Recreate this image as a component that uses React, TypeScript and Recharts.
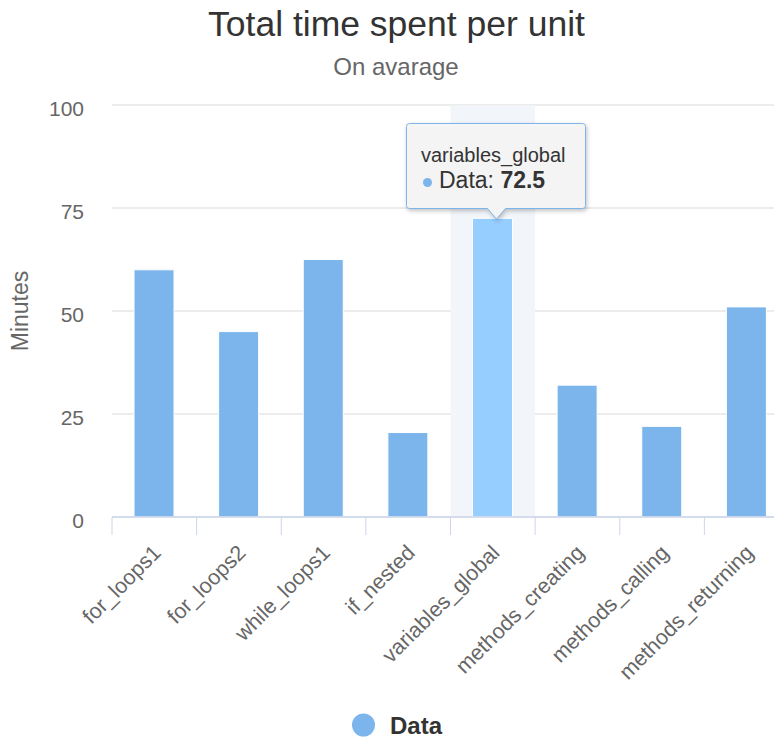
import React from 'react'
import { Bar, BarChart, CartesianGrid, Cell, Tooltip, XAxis, YAxis } from 'recharts'

const categories = [
  'for_loops1',
  'for_loops2',
  'while_loops1',
  'if_nested',
  'variables_global',
  'methods_creating',
  'methods_calling',
  'methods_returning',
]
const minutes = [60, 45, 62.5, 20.5, 72.5, 32, 22, 51]
const yTicks = [0, 25, 50, 75, 100]
const seriesName = 'Data'
const hoveredIndex = 4

const data = categories.map((name, i) => ({ name, value: minutes[i] }))

const FONT = '"Liberation Sans", Arial, Helvetica, sans-serif'
const BAR = '#7cb5ec'
const BAR_HOVER = '#96ceff'
const AXIS = '#ccd6eb'

function YTick({ x, y, payload }: any) {
  return (
    <text x={x} y={y + 10.5} textAnchor="end" fill="#666666" fontSize={21} fontFamily={FONT}>
      {payload.value}
    </text>
  )
}

// Highcharts puts the tick marks between categories, so draw them at the left edge of each band
function XTick({ x, y, payload }: any) {
  const half = payload.offset ?? 0
  return (
    <g>
      <line x1={x - half} x2={x - half} y1={y} y2={y + 18} stroke={AXIS} strokeWidth={1} />
      <text
        x={x + 8}
        y={y + 37}
        textAnchor="end"
        fill="#666666"
        fontSize={21.5}
        fontFamily={FONT}
        transform={`rotate(-45, ${x + 8}, ${y + 37})`}
      >
        {payload.value}
      </text>
    </g>
  )
}

function TooltipBox({ active, payload, label }: any) {
  if (!active || !payload?.[0]) return null
  const w = 179
  const h = 85
  return (
    <div style={{ position: 'relative', width: w + 2, height: h + 14, fontFamily: FONT }}>
      <svg width={w + 2} height={h + 14} style={{ position: 'absolute', left: 0, top: 0, overflow: 'visible' }}>
        <path
          d={`M3.5,0.5 H${w - 2.5} Q${w + 0.5},0.5 ${w + 0.5},3.5 V${h - 2.5} Q${w + 0.5},${h + 0.5} ${w - 2.5},${h + 0.5} H${w / 2 + 10} L${w / 2 + 1},${h + 11} L${w / 2 - 8},${h + 0.5} H3.5 Q0.5,${h + 0.5} 0.5,${h - 2.5} V3.5 Q0.5,0.5 3.5,0.5 Z`}
          fill="rgba(247,247,247,0.92)"
          stroke={BAR}
          strokeWidth={1}
          style={{ filter: 'drop-shadow(1px 2px 2px rgba(0,0,0,0.25))' }}
        />
      </svg>
      <div style={{ position: 'absolute', left: 15, top: 21, fontSize: 20, color: '#333333', whiteSpace: 'nowrap' }}>
        {label}
      </div>
      <div
        style={{
          position: 'absolute',
          left: 17,
          top: 44,
          fontSize: 23,
          color: '#333333',
          whiteSpace: 'nowrap',
          display: 'flex',
          alignItems: 'center',
        }}
      >
        <span
          style={{ display: 'inline-block', width: 9, height: 9, borderRadius: '50%', background: BAR, marginRight: 7, marginTop: 3 }}
        />
        <span>
          {payload[0].name}: <b>{payload[0].value}</b>
        </span>
      </div>
    </div>
  )
}

export default function App() {
  return (
    <div
      style={{
        position: 'fixed',
        left: 0,
        top: 0,
        width: 774,
        height: 738,
        overflow: 'hidden',
        background: '#ffffff',
        fontFamily: FONT,
      }}
    >
      <svg width={774} height={738} style={{ position: 'absolute', left: 0, top: 0 }}>
        <text x={396.5} y={36} textAnchor="middle" fontSize={35.5} fill="#333333" fontFamily={FONT}>
          Total time spent per unit
        </text>
        <text x={396} y={75} textAnchor="middle" fontSize={24} fill="#666666" fontFamily={FONT}>
          On avarage
        </text>
        <circle cx={363.5} cy={725} r={11.5} fill={BAR} />
        <text x={390} y={734} fontSize={24} fontWeight="bold" fill="#333333" fontFamily={FONT}>
          {seriesName}
        </text>
      </svg>
      <div style={{ position: 'absolute', left: 0, top: 0 }}>
        <BarChart
          width={800}
          height={738}
          data={data}
          margin={{ top: 105, right: 11, bottom: 71, left: 52 }}
          barSize={40}
        >
          <CartesianGrid vertical={false} stroke="#e6e6e6" strokeWidth={1.5} />
          <XAxis
            dataKey="name"
            interval={0}
            height={150}
            axisLine={{ stroke: AXIS, strokeWidth: 1.5 }}
            tickLine={false}
            tickSize={0}
            tickMargin={0}
            tick={<XTick />}
          />
          <YAxis
            domain={[0, 100]}
            ticks={yTicks}
            width={60}
            axisLine={false}
            tickLine={false}
            tickSize={0}
            tickMargin={28}
            tick={<YTick />}
            label={{
              content: ({ viewBox }: any) => {
                const cy = viewBox.y + viewBox.height / 2
                return (
                  <text
                    x={20}
                    y={cy}
                    textAnchor="middle"
                    dominantBaseline="central"
                    fontSize={23}
                    fill="#666666"
                    fontFamily={FONT}
                    transform={`rotate(-90, 20, ${cy})`}
                  >
                    Minutes
                  </text>
                )
              },
            }}
          />
          <Tooltip
            active
            defaultIndex={hoveredIndex}
            position={{ x: 406, y: 123 }}
            cursor={{ fill: '#f2f5fa' }}
            content={<TooltipBox />}
            isAnimationActive={false}
            wrapperStyle={{ outline: 'none' }}
          />
          <Bar dataKey="value" name={seriesName} stroke="#ffffff" strokeWidth={1} isAnimationActive={false}>
            {data.map((d, i) => (
              <Cell key={d.name} fill={i === hoveredIndex ? BAR_HOVER : BAR} />
            ))}
          </Bar>
        </BarChart>
      </div>
    </div>
  )
}
